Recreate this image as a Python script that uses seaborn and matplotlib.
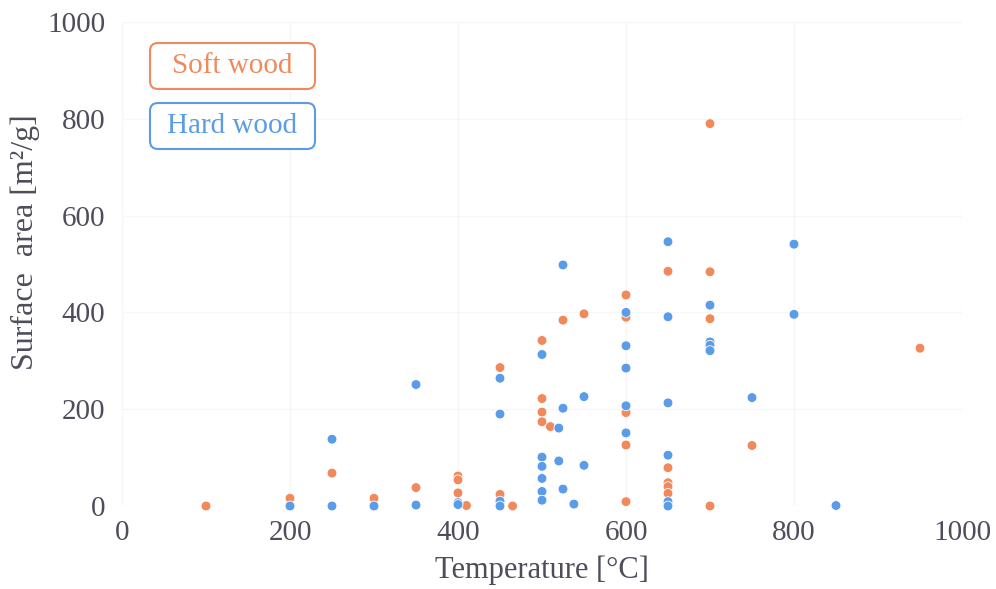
import numpy as np
import pandas as pd
import matplotlib
matplotlib.use("Agg")
import matplotlib.pyplot as plt
from matplotlib.patches import FancyBboxPatch
from matplotlib.transforms import IdentityTransform
import seaborn as sns

# Soft wood samples (temperature in C, surface area in m2/g)
soft_temp = [100, 200, 250, 300, 350, 400, 400, 400, 410, 450, 450, 465,
             500, 500, 500, 500, 510, 525, 550,
             600, 600, 600, 600, 600, 650, 650, 650, 650, 650,
             700, 700, 700, 700, 750, 950]
soft_area = [0, 16, 68, 16, 38, 62, 54, 27, 1, 286, 24, 0,
             342, 222, 194, 174, 164, 384, 397,
             436, 390, 193, 126, 9, 485, 79, 48, 40, 26,
             790, 484, 387, 0, 125, 326]

# Hard wood samples
hard_temp = [200, 250, 250, 300, 350, 350, 400, 400, 450, 450, 450, 450,
             500, 500, 500, 500, 500, 500, 520, 520, 525, 525, 525, 538,
             550, 550, 600, 600, 600, 600, 600,
             650, 650, 650, 650, 650, 650, 700, 700, 700, 700,
             750, 800, 800, 850]
hard_area = [0, 138, 0, 0, 251, 2, 7, 3, 264, 190, 10, 0,
             313, 101, 82, 57, 30, 12, 161, 93, 498, 202, 35, 4,
             226, 84, 400, 331, 285, 207, 151,
             546, 391, 213, 105, 9, 0, 415, 339, 332, 321,
             224, 541, 396, 1]

groups = ["Soft wood", "Hard wood"]
colors = {"Soft wood": "#f08a5d", "Hard wood": "#5b9ce8"}
text_col = "#4d4d5c"

df = pd.DataFrame({
    "Temperature": soft_temp + hard_temp,
    "Surface area": soft_area + hard_area,
    "Wood": ["Soft wood"] * len(soft_temp) + ["Hard wood"] * len(hard_temp),
})

sns.set_theme(style="white")
plt.rcParams["font.family"] = ["Liberation Serif", "DejaVu Serif"]

fig = plt.figure(figsize=(9.96, 5.89), dpi=100)
ax = fig.add_axes([122 / 996, 83 / 589, 840 / 996, 484 / 589])

sns.scatterplot(data=df, x="Temperature", y="Surface area", hue="Wood",
                hue_order=groups, palette=colors, s=50, edgecolor="white",
                linewidth=0.6, legend=False, clip_on=False, zorder=3, ax=ax)

ax.set_xlim(0, 1000)
ax.set_ylim(0, 1000)
ax.set_xticks(np.arange(0, 1001, 200))
ax.set_yticks(np.arange(0, 1001, 200))
ax.grid(True, color="#f6f6f6", linewidth=1)
ax.set_axisbelow(True)
for sp in ax.spines.values():
    sp.set_visible(False)

ax.tick_params(axis="both", length=0, labelsize=21, colors=text_col)
ax.tick_params(axis="x", pad=10)
ax.tick_params(axis="y", pad=12)

ax.set_xlabel("Temperature [°C]", fontsize=22, color=text_col, labelpad=7)
ax.set_ylabel("Surface  area [m²/g]", fontsize=23, color=text_col)
ax.yaxis.set_label_coords(-0.098, 0.545)

# boxed legend labels (fixed-size boxes, placed in pixels)
for i, g in enumerate(groups):
    top = 43 + i * 60
    box = FancyBboxPatch((150, 589 - top - 46), 165, 46,
                         boxstyle="round,pad=0,rounding_size=8",
                         transform=IdentityTransform(), facecolor="white",
                         edgecolor=colors[g], linewidth=1.5, clip_on=False,
                         zorder=4)
    ax.add_artist(box)
    ax.text(232.5, 589 - top - 23, g, transform=IdentityTransform(),
            ha="center", va="center", fontsize=21, color=colors[g], zorder=5)

fig.savefig("out.png", dpi=100)
